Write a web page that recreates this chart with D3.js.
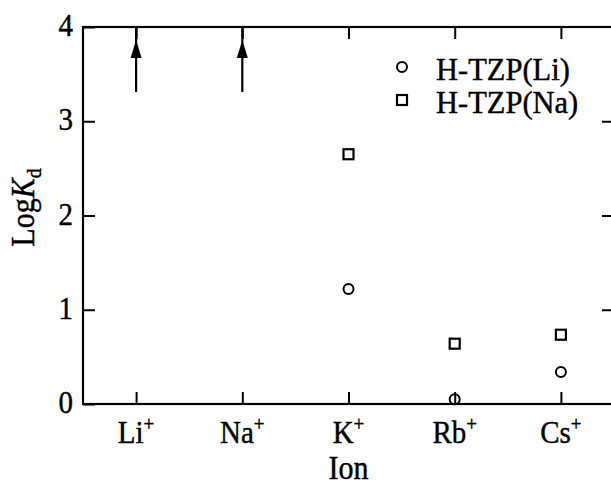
<!DOCTYPE html>
<html>
<head>
<meta charset="utf-8">
<script src="https://cdn.jsdelivr.net/npm/d3@7"></script>
<style>
  body { margin: 0; background: #fff; }
  text { font-family: "Liberation Serif", "Times New Roman", serif; fill: #000; stroke: #000; stroke-width: 0.4px; }
</style>
</head>
<body>
<div id="chart"></div>
<script>
// ions on the x axis
const ions = ["Li", "Na", "K", "Rb", "Cs"];
// log Kd values, null where no point is drawn
const liForm = [null, null, 1.22, 0.05, 0.34];
const naForm = [null, null, 2.65, 0.64, 0.735];
// lower bounds shown as arrows (value above the top of the axis)
const arrowFrom = [3.31, 3.31, null, null, null];
const yTicks = [0, 1, 2, 3, 4];
const seriesNames = ["H-TZP(Li)", "H-TZP(Na)"];

const width = 611, height = 487;
const margin = {top: 27, right: -3, bottom: 83, left: 83};
// the scanned lettering is a bit taller than plain Times
const stretch = 1.1;

const svg = d3.select("#chart")
  .append("svg")
    .attr("width", width)
    .attr("height", height);

const xScale = d3.scalePoint()
  .domain(ions)
  .range([margin.left, width - margin.right])
  .padding(0.5);

const yScale = d3.scaleLinear()
  .domain([0, 4])
  .range([height - margin.bottom, margin.top]);

const x0 = margin.left, x1 = width - margin.right;
const y0 = yScale(0), y1 = yScale(4);
const tickLen = 12;

// frame
svg.append("rect")
  .attr("x", x0).attr("y", y1)
  .attr("width", x1 - x0).attr("height", y0 - y1)
  .attr("fill", "none")
  .attr("stroke", "#000")
  .attr("stroke-width", 2.2);

// left axis, ticks pointing in
const leftAxis = svg.append("g")
  .attr("transform", `translate(${x0},0)`)
  .call(d3.axisRight(yScale).tickValues(yTicks).tickSize(tickLen).tickFormat(""));
leftAxis.select(".domain").remove();
leftAxis.selectAll("line").attr("stroke-width", 2);
svg.append("g").selectAll("text")
  .data(yTicks)
  .join("text")
    .attr("transform", d => `translate(${x0 - 10},${yScale(d) + 9}) scale(1,${stretch})`)
    .attr("text-anchor", "end")
    .style("font-size", "29px")
    .text(d => d);

// right axis, ticks pointing in
const rightAxis = svg.append("g")
  .attr("transform", `translate(${x1},0)`)
  .call(d3.axisLeft(yScale).tickValues([1, 2, 3]).tickSize(tickLen).tickFormat(""));
rightAxis.select(".domain").remove();
rightAxis.selectAll("line").attr("stroke-width", 2);

// bottom axis
const bottomAxis = svg.append("g")
  .attr("transform", `translate(0,${y0})`)
  .call(d3.axisTop(xScale).tickSize(tickLen).tickFormat(""));
bottomAxis.select(".domain").remove();
bottomAxis.selectAll("line").attr("stroke-width", 2);

// top axis
const topAxis = svg.append("g")
  .attr("transform", `translate(0,${y1})`)
  .call(d3.axisBottom(xScale).tickSize(tickLen).tickFormat(""));
topAxis.select(".domain").remove();
topAxis.selectAll("line").attr("stroke-width", 2);

// ion labels with superscript +
const xl = svg.append("g").selectAll("text")
  .data(ions)
  .join("text")
    .attr("transform", d => `translate(${xScale(d)},${y0 + 39}) scale(1,${stretch})`)
    .attr("text-anchor", "middle")
    .style("font-size", "29px");
xl.append("tspan").text(d => d);
xl.append("tspan")
  .attr("dy", -11)
  .style("font-size", "19px")
  .text("+");

// axis titles
svg.append("text")
  .attr("transform", `translate(${(x0 + x1) / 2},479) scale(1,${stretch})`)
  .attr("text-anchor", "middle")
  .style("font-size", "30px")
  .text("Ion");

const yt = svg.append("text")
  .attr("transform", `translate(34,${(y0 + y1) / 2 - 8}) rotate(-90) scale(1,${stretch})`)
  .attr("text-anchor", "middle")
  .style("font-size", "30px");
yt.append("tspan").text("Log");
yt.append("tspan").style("font-style", "italic").text("K");
yt.append("tspan").attr("dy", 6).style("font-size", "20px").text("d");

// arrows for lower bounds
const arrows = svg.append("g");
ions.forEach((ion, i) => {
  if (arrowFrom[i] === null) return;
  const x = xScale(ion);
  arrows.append("line")
    .attr("x1", x).attr("x2", x)
    .attr("y1", yScale(arrowFrom[i])).attr("y2", y1)
    .attr("stroke", "#000")
    .attr("stroke-width", 2.2);
  const tip = y1 + 13;
  arrows.append("path")
    .attr("d", `M${x},${tip} L${x - 5.5},${tip + 18} L${x + 5.5},${tip + 18} Z`)
    .attr("fill", "#000");
});

// Li-form points as circles
svg.append("g").selectAll("circle")
  .data(ions.map((d, i) => ({ion: d, v: liForm[i]})).filter(d => d.v !== null))
  .join("circle")
    .attr("cx", d => xScale(d.ion))
    .attr("cy", d => yScale(d.v))
    .attr("r", 5)
    .attr("fill", "none")
    .attr("stroke", "#000")
    .attr("stroke-width", 2);

// Na-form points as squares
svg.append("g").selectAll("rect")
  .data(ions.map((d, i) => ({ion: d, v: naForm[i]})).filter(d => d.v !== null))
  .join("rect")
    .attr("x", d => xScale(d.ion) - 5)
    .attr("y", d => yScale(d.v) - 5)
    .attr("width", 10)
    .attr("height", 10)
    .attr("fill", "none")
    .attr("stroke", "#000")
    .attr("stroke-width", 2.2);

// legend
const legend = svg.append("g").attr("transform", "translate(402,67)");
legend.append("circle")
  .attr("cx", 0).attr("cy", 0).attr("r", 5)
  .attr("fill", "none").attr("stroke", "#000").attr("stroke-width", 2);
legend.append("rect")
  .attr("x", -5).attr("y", 28).attr("width", 10).attr("height", 10)
  .attr("fill", "none").attr("stroke", "#000").attr("stroke-width", 2.2);
legend.selectAll("text")
  .data(seriesNames)
  .join("text")
    .attr("transform", (d, i) => `translate(34,${13 + i * 33}) scale(1,1.04)`)
    .style("font-size", "30.5px")
    .text(d => d);
</script>
</body>
</html>
